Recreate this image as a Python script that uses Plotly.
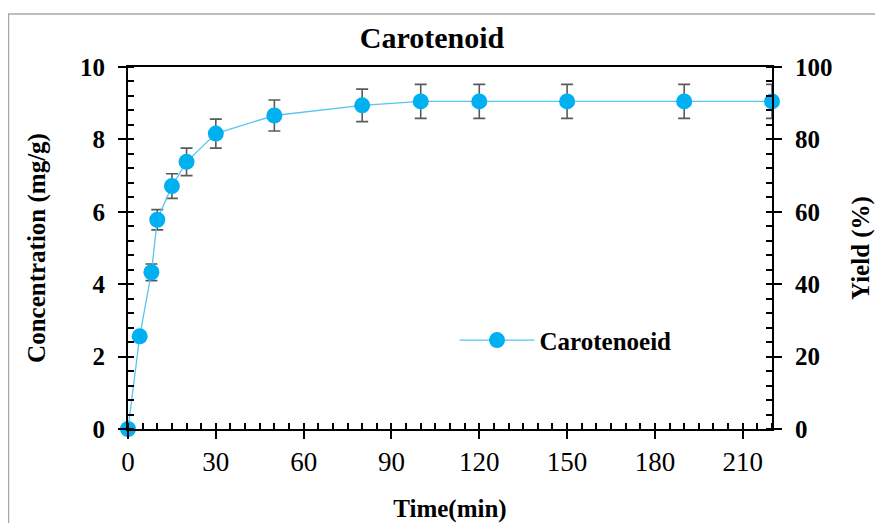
import plotly.graph_objects as go

# ---- data ----
time_min = [0, 4, 8, 10, 15, 20, 30, 50, 80, 100, 120, 150, 190, 220]
concentration = [0, 2.56, 4.33, 5.78, 6.71, 7.38, 8.16, 8.66, 8.94, 9.05, 9.05, 9.05, 9.05, 9.05]
conc_err = [0, 0.12, 0.23, 0.28, 0.34, 0.38, 0.40, 0.43, 0.45, 0.47, 0.47, 0.47, 0.47, 0.47]
series_name = "Carotenoeid"
title_text = "Carotenoid"
x_title = "Time(min)"
y_title = "Concentration (mg/g)"
y2_title = "Yield (%)"

FONT = "Liberation Serif, Times New Roman, serif"
BOLD = dict(family=FONT, size=25, color="black", weight="bold")

fig = go.Figure()
fig.add_trace(go.Scatter(
    x=time_min, y=concentration, name=series_name, mode="lines+markers",
    line=dict(color="#56C5F2", width=1.3),
    marker=dict(color="#00B0F0", size=16),
    error_y=dict(type="data", array=conc_err, visible=True,
                 color="#5a5a5a", thickness=1.6, width=6),
    cliponaxis=False,
))
# empty trace so the right-hand (yield) axis is drawn
fig.add_trace(go.Scatter(x=[], y=[], yaxis="y2", showlegend=False, hoverinfo="skip"))

axis_line = dict(showline=True, linecolor="black", linewidth=2, showgrid=False,
                 zeroline=False, automargin=False)

W, H = 875, 515
L, R, T, B = 120, 111, 59, 94
PH = H - T - B

fig.update_layout(
    width=W, height=H,
    margin=dict(l=L, r=R, t=T, b=B),
    paper_bgcolor="white", plot_bgcolor="white",
    title=dict(text=title_text, x=424/W, xanchor="center", xref="container",
               y=1-29/H, yanchor="middle", yref="container", automargin=False,
               font=dict(family=FONT, size=30, color="black", weight="bold")),
    xaxis=dict(range=[0, 220], tickmode="linear", tick0=0, dtick=30,
               ticks="outside", ticklen=8, tickwidth=2, tickcolor="black",
               minor=dict(dtick=5, ticks="inside", ticklen=6, tickwidth=1.5, tickcolor="black"),
               mirror=True, ticklabelstandoff=0,
               tickfont=dict(family=FONT, size=27, color="black"),
               title=dict(text=x_title, font=BOLD, standoff=25),
               **axis_line),
    yaxis=dict(range=[0, 10], tickmode="linear", tick0=0, dtick=2,
               ticks="outside", ticklen=8, tickwidth=2, tickcolor="black",
               minor=dict(dtick=0.4, ticks="inside", ticklen=6, tickwidth=1.5, tickcolor="black"),
               ticklabelstandoff=8, tickfont=BOLD,
               title=dict(text=y_title, font=BOLD, standoff=27),
               **axis_line),
    yaxis2=dict(range=[0, 100], tickmode="linear", tick0=0, dtick=20,
                overlaying="y", side="right", anchor="x",
                ticks="outside", ticklen=8, tickwidth=2, tickcolor="black",
                minor=dict(dtick=4, ticks="inside", ticklen=6, tickwidth=1.5, tickcolor="black"),
                ticklabelstandoff=8, tickfont=BOLD,
                title=dict(text=y2_title, font=BOLD, standoff=20),
                **axis_line),
    showlegend=True,
    legend=dict(x=0.507, y=0.245, xanchor="left", yanchor="middle", itemwidth=75,
                bgcolor="rgba(0,0,0,0)", font=BOLD),
    shapes=[dict(type="rect", xref="paper", yref="paper",
                 x0=(0.5-L)/644, x1=(W+20-L)/644,
                 y0=-(B+30)/PH, y1=(T+PH-6)/PH,
                 line=dict(color="#a8a8a8", width=1.5), layer="below")],
)

fig.write_html("out.html")
